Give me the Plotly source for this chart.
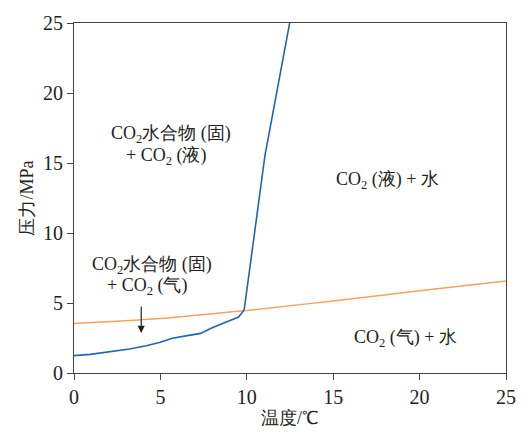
import plotly.graph_objects as go

# Hydrate equilibrium curve (blue)
hyd_T = [0.0, 0.94, 3.22, 4.18, 4.94, 5.7, 6.47, 7.33, 8.0, 8.76, 9.52, 9.71, 9.85, 11.05, 12.48]
hyd_P = [1.24, 1.33, 1.71, 1.94, 2.18, 2.48, 2.65, 2.83, 3.23, 3.63, 4.0, 4.29, 4.52, 15.53, 25.0]

# CO2 vapour-liquid curve (orange)
vl_T = [0, 5, 10, 15, 20, 25]
vl_P = [3.54, 3.89, 4.47, 5.15, 5.88, 6.58]

x_ticks = [0, 5, 10, 15, 20, 25]
y_ticks = [0, 5, 10, 15, 20, 25]

labels = [
    ("CO<sub>2</sub>水合物 (固)", 5.62, 17.06),
    ("+ CO<sub>2</sub> (液)", 5.33, 15.5),
    ("CO<sub>2</sub> (液) + 水", 18.15, 13.75),
    ("CO<sub>2</sub>水合物 (固)", 4.53, 7.7),
    ("+ CO<sub>2</sub> (气)", 4.24, 6.16),
    ("CO<sub>2</sub> (气) + 水", 19.2, 2.44),
]
arrow_x = 3.89
arrow_to = 2.86

FONT = "Liberation Serif"
INK = "#222222"

fig = go.Figure()
fig.add_trace(go.Scatter(x=vl_T, y=vl_P, mode="lines", line=dict(color="#f4a25c", width=1.5),
                         line_shape="spline"))
fig.add_trace(go.Scatter(x=hyd_T, y=hyd_P, mode="lines", line=dict(color="#2066b4", width=1.6)))

for text, x, y in labels:
    fig.add_annotation(x=x, y=y, text=text, showarrow=False,
                       font=dict(family=FONT, size=18, color=INK))

fig.add_annotation(x=arrow_x, y=arrow_to, ax=0, ay=-28, text="", showarrow=True, arrowhead=2,
                   arrowsize=1.2, arrowwidth=1.2, arrowcolor=INK)

fig.update_layout(
    width=528, height=437, showlegend=False,
    font=dict(family=FONT, color=INK),
    margin=dict(l=74, r=17, t=22, b=59),
    plot_bgcolor="white", paper_bgcolor="white",
)
common = dict(showline=True, linecolor="#444444", linewidth=1.2, mirror=True,
              ticks="outside", ticklen=6, tickcolor="#444444", tickwidth=1.2,
              showgrid=False, zeroline=False)
fig.update_xaxes(range=[0, 25], tickvals=x_ticks,
                 tickfont=dict(family=FONT, size=20, color=INK),
                 title_text="温度/℃", title_font=dict(family=FONT, size=18, color=INK),
                 title_standoff=4, **common)
fig.update_yaxes(range=[0, 25], tickvals=y_ticks,
                 tickfont=dict(family=FONT, size=20, color=INK),
                 title_text="压力/MPa", title_font=dict(family=FONT, size=18, color=INK),
                 title_standoff=4, **common)

fig.write_html("out.html")
